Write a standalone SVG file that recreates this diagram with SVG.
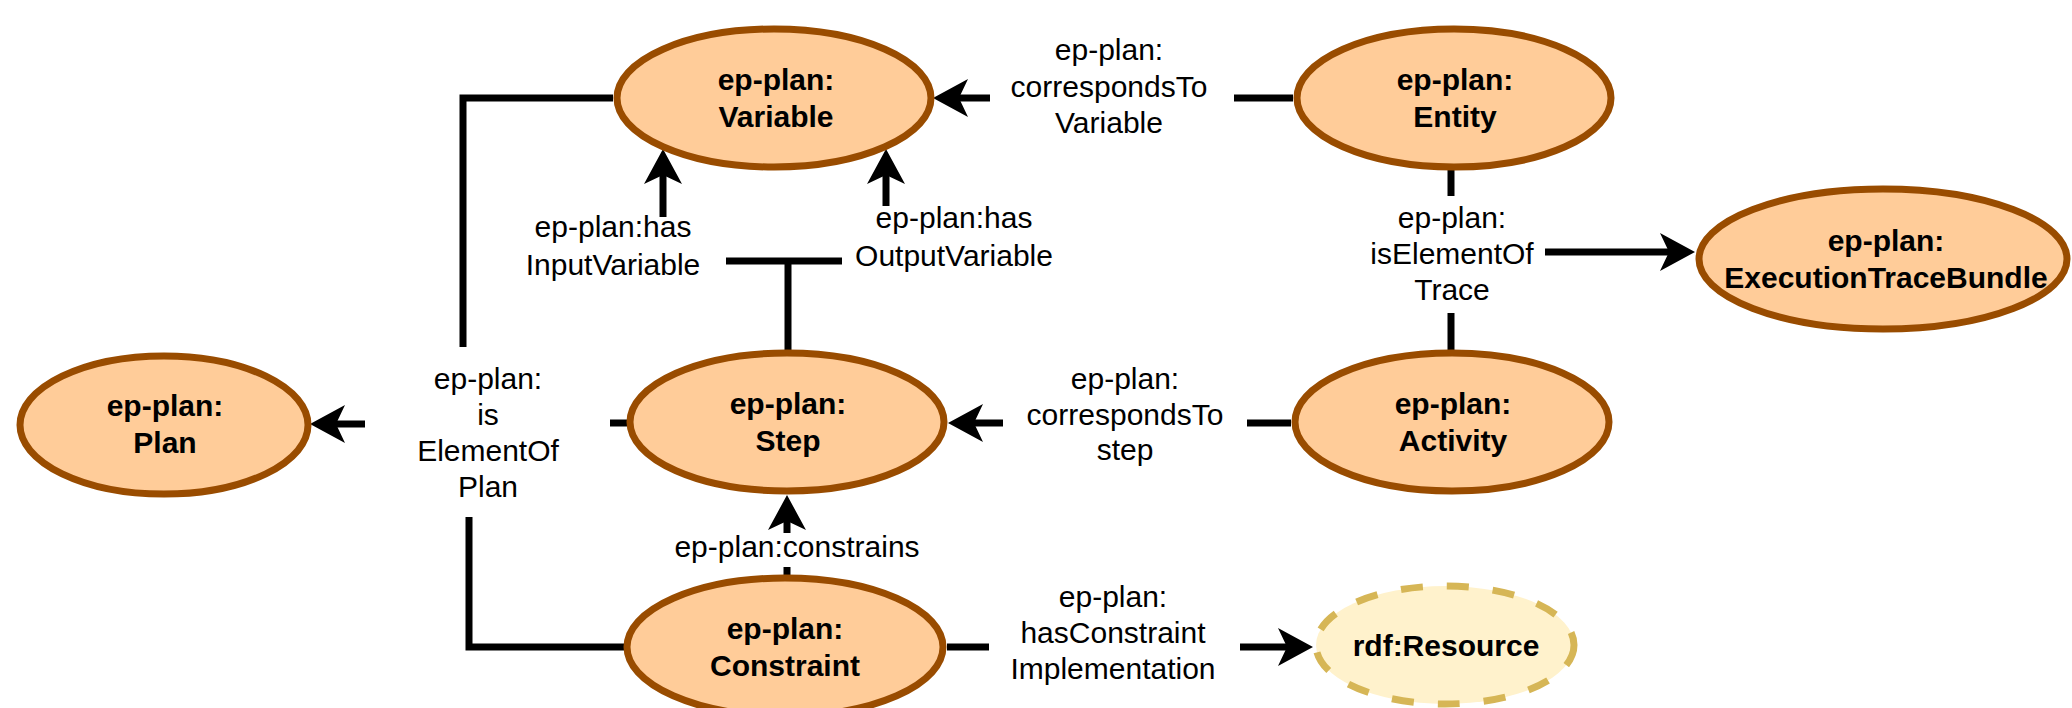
<svg xmlns="http://www.w3.org/2000/svg" width="2072" height="708" viewBox="0 0 2072 708">
<style>
.node{fill:#ffcc99;stroke:#994c00;stroke-width:7}
.res{fill:#fff2cc;stroke:#d6b656;stroke-width:7;stroke-dasharray:22 24}
.nt{font-family:"Liberation Sans",Arial,Helvetica,sans-serif;font-size:30px;font-weight:bold;fill:#000;text-anchor:middle}
.et{font-family:"Liberation Sans",Arial,Helvetica,sans-serif;font-size:30px;fill:#000;text-anchor:middle}
.c{fill:none;stroke:#000;stroke-width:7}
</style>
<defs>
<marker id="arr" markerUnits="userSpaceOnUse" markerWidth="36" markerHeight="38" viewBox="0 0 36 38" refX="9" refY="19" orient="auto">
<path d="M35,19 L0,0 L9,19 L0,38 Z" fill="#000"/>
</marker>
</defs>
<rect width="2072" height="708" fill="#fff"/>
<g id="connectors">
<path class="c" d="M1293,98 L1234,98"/>
<path class="c" d="M990,98 L959,98" marker-end="url(#arr)"/>
<path class="c" d="M788,350 L788,261"/>
<path class="c" d="M726,261 L842,261"/>
<path class="c" d="M663,217 L663,175" marker-end="url(#arr)"/>
<path class="c" d="M886,206 L886,175" marker-end="url(#arr)"/>
<path class="c" d="M613,98 L463,98 L463,347"/>
<path class="c" d="M627,423 L610,423"/>
<path class="c" d="M365,424 L336,424" marker-end="url(#arr)"/>
<path class="c" d="M624,647 L469,647 L469,517"/>
<path class="c" d="M1291,423 L1247,423"/>
<path class="c" d="M1003,423 L974,423" marker-end="url(#arr)"/>
<path class="c" d="M1451,170 L1451,196"/>
<path class="c" d="M1451,313 L1451,350"/>
<path class="c" d="M1545,252 L1669,252" marker-end="url(#arr)"/>
<path class="c" d="M787,575 L787,567"/>
<path class="c" d="M787,533 L787,521" marker-end="url(#arr)"/>
<path class="c" d="M947,647 L989,647"/>
<path class="c" d="M1240,647 L1287,647" marker-end="url(#arr)"/>
</g>
<g id="edge-labels">
<text class="et" x="1109"><tspan x="1109" y="60">ep-plan:</tspan><tspan x="1109" y="97">correspondsTo</tspan><tspan x="1109" y="133">Variable</tspan></text>
<text class="et"><tspan x="613" y="237">ep-plan:has</tspan><tspan x="613" y="275">InputVariable</tspan></text>
<text class="et"><tspan x="954" y="228">ep-plan:has</tspan><tspan x="954" y="266">OutputVariable</tspan></text>
<text class="et"><tspan x="488" y="389">ep-plan:</tspan><tspan x="488" y="425">is</tspan><tspan x="488" y="461">ElementOf</tspan><tspan x="488" y="497">Plan</tspan></text>
<text class="et"><tspan x="1125" y="389">ep-plan:</tspan><tspan x="1125" y="425">correspondsTo</tspan><tspan x="1125" y="460">step</tspan></text>
<text class="et"><tspan x="1452" y="228">ep-plan:</tspan><tspan x="1452" y="264">isElementOf</tspan><tspan x="1452" y="300">Trace</tspan></text>
<text class="et" x="797" y="557">ep-plan:constrains</text>
<text class="et"><tspan x="1113" y="607">ep-plan:</tspan><tspan x="1113" y="643">hasConstraint</tspan><tspan x="1113" y="679">Implementation</tspan></text>
</g>
<g id="node-variable">
<ellipse class="node" cx="774" cy="98" rx="157" ry="69"/>
<text class="nt"><tspan x="776" y="90">ep-plan:</tspan><tspan x="776" y="127">Variable</tspan></text>
</g>
<g id="node-entity">
<ellipse class="node" cx="1454" cy="98" rx="157" ry="69"/>
<text class="nt"><tspan x="1455" y="90">ep-plan:</tspan><tspan x="1455" y="127">Entity</tspan></text>
</g>
<g id="node-executiontracebundle">
<ellipse class="node" cx="1883" cy="259" rx="184" ry="70"/>
<text class="nt"><tspan x="1886" y="251">ep-plan:</tspan><tspan x="1886" y="288">ExecutionTraceBundle</tspan></text>
</g>
<g id="node-plan">
<ellipse class="node" cx="164" cy="425" rx="144" ry="69"/>
<text class="nt"><tspan x="165" y="416">ep-plan:</tspan><tspan x="165" y="453">Plan</tspan></text>
</g>
<g id="node-step">
<ellipse class="node" cx="787" cy="422" rx="157" ry="69"/>
<text class="nt"><tspan x="788" y="414">ep-plan:</tspan><tspan x="788" y="451">Step</tspan></text>
</g>
<g id="node-activity">
<ellipse class="node" cx="1452" cy="422" rx="157" ry="69"/>
<text class="nt"><tspan x="1453" y="414">ep-plan:</tspan><tspan x="1453" y="451">Activity</tspan></text>
</g>
<g id="node-constraint">
<ellipse class="node" cx="785" cy="647" rx="158" ry="69"/>
<text class="nt"><tspan x="785" y="639">ep-plan:</tspan><tspan x="785" y="676">Constraint</tspan></text>
</g>
<g id="node-resource">
<ellipse class="res" cx="1445" cy="645" rx="129" ry="59"/>
<text class="nt" x="1446" y="656">rdf:Resource</text>
</g>
</svg>
